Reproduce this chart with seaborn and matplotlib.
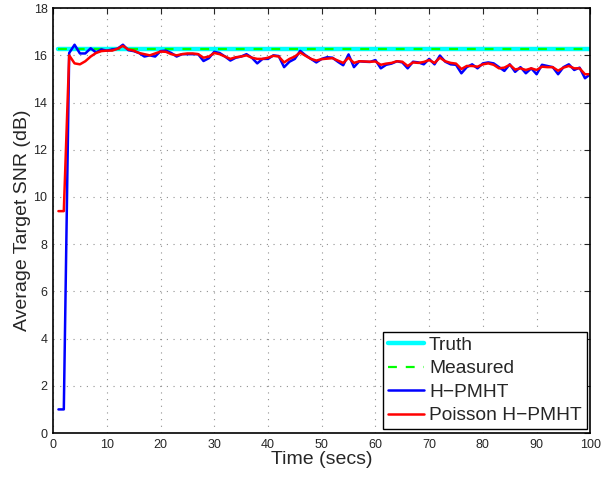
import numpy as np
import pandas as pd
import matplotlib
matplotlib.use("Agg")
import matplotlib.pyplot as plt
import seaborn as sns

time = list(range(1, 101))
truth_level = 16.25
measured_level = 16.25
hpmht = [1.0, 1.0, 16.1, 16.45, 16.08, 16.08, 16.3, 16.12, 16.25, 16.2,
         16.25, 16.28, 16.45, 16.22, 16.18, 16.1, 15.95, 16.0, 15.95, 16.18,
         16.2, 16.1, 15.95, 16.05, 16.05, 16.05, 16.05, 15.76, 15.88, 16.15,
         16.1, 15.95, 15.78, 15.9, 15.95, 16.05, 15.9, 15.66, 15.85, 15.85,
         16.0, 15.97, 15.5, 15.73, 15.85, 16.19, 16.0, 15.85, 15.7, 15.85,
         15.92, 15.9, 15.73, 15.58, 16.04, 15.5, 15.75, 15.73, 15.72, 15.8,
         15.45, 15.6, 15.65, 15.75, 15.7, 15.45, 15.73, 15.7, 15.62, 15.85,
         15.62, 15.99, 15.73, 15.62, 15.6, 15.24, 15.5, 15.62, 15.45, 15.66,
         15.7, 15.66, 15.5, 15.34, 15.62, 15.3, 15.5, 15.24, 15.45, 15.2,
         15.6, 15.55, 15.5, 15.2, 15.5, 15.62, 15.38, 15.48, 15.03, 15.2]
poisson = [9.4, 9.4, 16.0, 15.66, 15.62, 15.75, 15.95, 16.1, 16.18, 16.2,
           16.2, 16.28, 16.4, 16.25, 16.2, 16.1, 16.05, 16.0, 16.08, 16.16,
           16.15, 16.05, 16.0, 16.05, 16.08, 16.08, 16.05, 15.9, 15.95, 16.1,
           16.05, 15.95, 15.85, 15.92, 15.95, 16.0, 15.9, 15.85, 15.85, 15.9,
           15.98, 15.95, 15.7, 15.85, 15.95, 16.12, 15.98, 15.85, 15.78, 15.84,
           15.86, 15.88, 15.78, 15.68, 15.9, 15.68, 15.75, 15.74, 15.73, 15.74,
           15.6, 15.65, 15.68, 15.75, 15.73, 15.55, 15.7, 15.68, 15.72, 15.8,
           15.68, 15.9, 15.75, 15.68, 15.65, 15.42, 15.55, 15.55, 15.52, 15.62,
           15.66, 15.6, 15.45, 15.48, 15.6, 15.4, 15.45, 15.38, 15.45, 15.38,
           15.52, 15.5, 15.5, 15.35, 15.48, 15.55, 15.45, 15.45, 15.2, 15.2]
series_names = ["Truth", "Measured", "H\u2212PMHT", "Poisson H\u2212PMHT"]
x_ticks = list(range(0, 101, 10))
y_ticks = list(range(0, 19, 2))

sns.set_style("white")
plt.rcParams['font.family'] = ['Liberation Sans', 'DejaVu Sans']

df = pd.DataFrame({
    "time": time,
    "truth": [truth_level] * len(time),
    "measured": [measured_level] * len(time),
    "hpmht": hpmht,
    "poisson": poisson,
})

fig = plt.figure(figsize=(6.03, 4.79), dpi=100)
ax = fig.add_axes([0.088, 0.096, 0.891, 0.887])

sns.lineplot(data=df, x="time", y="truth", ax=ax, color="#00ffff", lw=3.2, label=series_names[0])
sns.lineplot(data=df, x="time", y="measured", ax=ax, color="#00ff00", lw=1.6, label=series_names[1])
ax.lines[-1].set_dashes([4, 4])
sns.lineplot(data=df, x="time", y="hpmht", ax=ax, color="#0000ff", lw=1.8, label=series_names[2])
sns.lineplot(data=df, x="time", y="poisson", ax=ax, color="#ff0000", lw=1.8, label=series_names[3])

ax.set_xlim(0, 100)
ax.set_ylim(0, 18)
ax.set_xticks(x_ticks)
ax.set_yticks(y_ticks)
ax.tick_params(direction="in", top=True, right=True, labelsize=9, length=4, width=0.8, pad=4)
ax.grid(True, linestyle=(0, (1, 5)), color="#909090", linewidth=0.8)
for s in ax.spines.values():
    s.set_linewidth(1.2)
    s.set_color("black")
ax.set_xlabel("Time (secs)", fontsize=14, labelpad=0)
ax.set_ylabel("Average Target SNR (dB)", fontsize=14, labelpad=2)

leg = ax.legend(loc="lower right", fontsize=13.8, frameon=True, fancybox=False,
                edgecolor="black", framealpha=1, handlelength=1.9, handletextpad=0.25,
                borderpad=0.25, labelspacing=0.32, borderaxespad=0.2)
leg.get_frame().set_linewidth(1.0)

fig.savefig("out.png", dpi=100)
